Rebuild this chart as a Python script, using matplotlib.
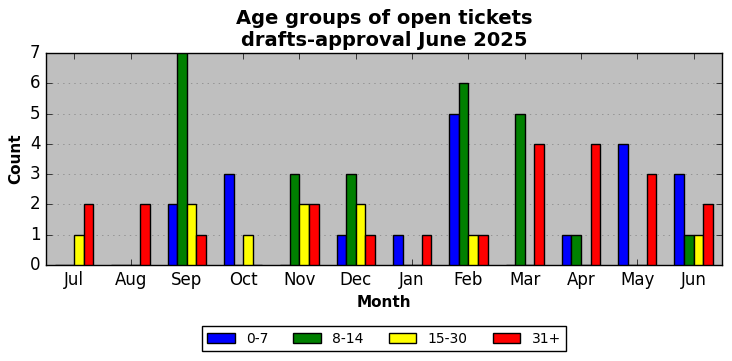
import matplotlib
matplotlib.use("Agg")
import matplotlib.pyplot as plt
import numpy as np

plt.style.use("classic")

months = ["Jul", "Aug", "Sep", "Oct", "Nov", "Dec", "Jan", "Feb", "Mar", "Apr", "May", "Jun"]
age_groups = ["0-7", "8-14", "15-30", "31+"]
counts_0_7 = [0, 0, 2, 3, 0, 1, 1, 5, 0, 1, 4, 3]
counts_8_14 = [0, 0, 7, 0, 3, 3, 0, 6, 5, 1, 0, 1]
counts_15_30 = [1, 0, 2, 1, 2, 2, 0, 1, 0, 0, 0, 1]
counts_31_plus = [2, 2, 1, 0, 2, 1, 1, 1, 4, 4, 3, 2]
colors = ["blue", "green", "yellow", "red"]

series = [counts_0_7, counts_8_14, counts_15_30, counts_31_plus]

fig, ax = plt.subplots(figsize=(7.32, 3.61), dpi=100)
fig.patch.set_facecolor("white")
ax.set_facecolor("#bfbfbf")

x = np.arange(len(months))
width = 0.17
for i, (label, vals, color) in enumerate(zip(age_groups, series, colors)):
    ax.bar(x + (i - 1.5) * width, vals, width, color=color, edgecolor="black",
           linewidth=1, label=label, align="center", zorder=3)

ax.set_xticks(x)
ax.set_xticklabels(months)
ax.set_xlim(-0.5, len(months) - 0.5)
ax.set_ylim(0, 7)
ax.set_yticks(range(0, 8))
ax.yaxis.grid(True, linestyle=":", color="gray", zorder=0)
ax.set_axisbelow(True)

ax.set_title("Age groups of open tickets\ndrafts-approval June 2025", fontsize=14, fontweight="bold")
ax.set_xlabel("Month", fontsize=11, fontweight="bold")
ax.set_ylabel("Count", fontsize=11, fontweight="bold")

ax.legend(loc="upper center", ncol=4, fontsize=10, bbox_to_anchor=(0.5, -0.257),
          columnspacing=1.8)
fig.subplots_adjust(left=0.063, right=0.986, top=0.853, bottom=0.266)
fig.savefig("out.png", dpi=100)
